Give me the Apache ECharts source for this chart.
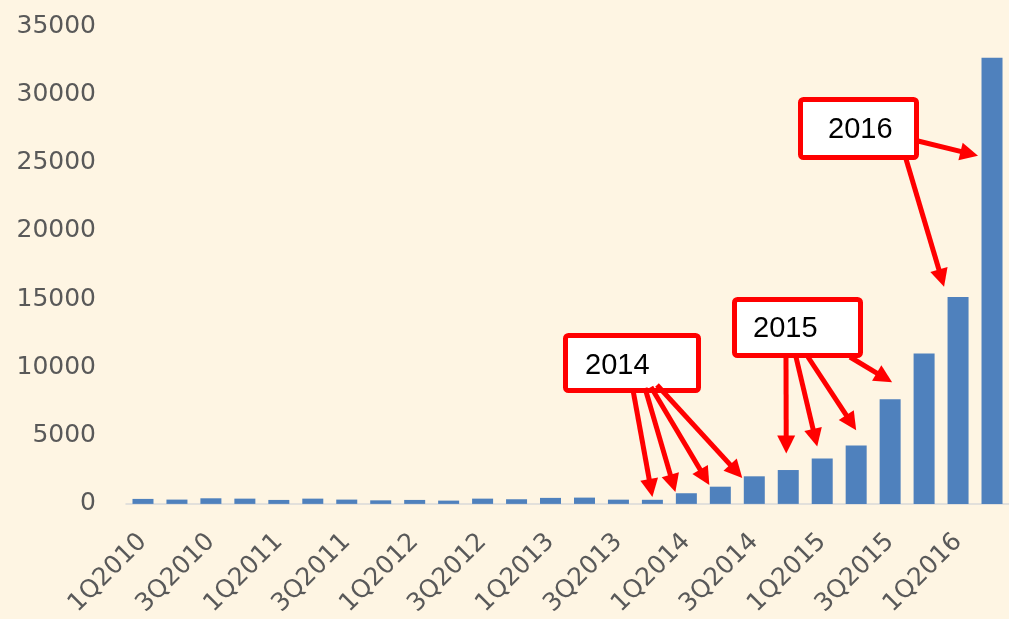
<!DOCTYPE html>
<html>
<head>
<meta charset="utf-8">
<script src="https://cdn.jsdelivr.net/npm/echarts@6/dist/echarts.min.js"></script>
<style>
  html, body { margin: 0; padding: 0; background: #FEF5E3; }
  #chart { width: 1009px; height: 619px; }
</style>
</head>
<body>
<div id="chart"></div>
<script>
// ---- data ----
const categories = [
  '1Q2010','2Q2010','3Q2010','4Q2010',
  '1Q2011','2Q2011','3Q2011','4Q2011',
  '1Q2012','2Q2012','3Q2012','4Q2012',
  '1Q2013','2Q2013','3Q2013','4Q2013',
  '1Q2014','2Q2014','3Q2014','4Q2014',
  '1Q2015','2Q2015','3Q2015','4Q2015',
  '1Q2016','2Q2016'
];
const values = [
  365, 315, 410, 385,
  290, 385, 315, 260,
  290, 240, 385, 340,
  440, 460, 310, 300,
  780, 1260, 2020, 2480,
  3330, 4280, 7660, 11010,
  15150, 32680
];
const yTicks = { min: 0, max: 35000, interval: 5000 };

// annotation callouts: label text, and arrow targets given as [category index, value]
const calloutLabels = ['2014', '2015', '2016'];
const calloutTargets = [
  [[15, 510], [16, 875], [17, 1385], [18, 1900]],
  [[19, 3690], [20, 4200], [21, 5400], [22, 8900]],
  [[24, 15900], [25, 25500]]
];

// ---- layout of the callouts (pixels) ----
const calloutLayout = [
  { box: [565.5, 335.5, 133, 55], text: [585, 366],
    starts: [[633, 390], [645, 388], [651, 387], [657, 385]], dx: [0, -11, -11, -12] },
  { box: [734.5, 299.5, 126, 56], text: [753, 329],
    starts: [[786, 357], [796, 357], [808, 357], [850, 357]], dx: [-2, -5, 0, 2] },
  { box: [800.5, 99.5, 116, 58], text: [828, 130],
    starts: [[906, 159], [918, 141]], dx: [-14, -14] }
];

const chart = echarts.init(document.getElementById('chart'));
chart.setOption({
  animation: false,
  backgroundColor: '#FEF5E3',
  grid: { left: 126, right: 0, top: 26, bottom: 114, containLabel: false },
  xAxis: {
    type: 'category',
    data: categories,
    axisLine: { lineStyle: { color: '#D9D9D9', width: 1.5 } },
    axisTick: { show: false },
    axisLabel: {
      interval: 1,
      rotate: 45,
      margin: 34,
      color: '#595959',
      fontFamily: 'DejaVu Sans',
      fontSize: 25
    }
  },
  yAxis: {
    type: 'value',
    min: yTicks.min, max: yTicks.max, interval: yTicks.interval,
    axisLine: { show: false },
    axisTick: { show: false },
    splitLine: { show: false },
    axisLabel: {
      margin: 30,
      color: '#595959',
      fontFamily: 'DejaVu Sans',
      fontSize: 25,
      formatter: (v) => String(v)
    }
  },
  series: [{
    type: 'bar',
    data: values,
    barWidth: 21,
    itemStyle: { color: '#4F81BD' }
  }]
});

// ---- build callouts ----
const RED = '#FF0000';
const graphics = [];
function arrow(p, t) {
  const vx = t[0] - p[0], vy = t[1] - p[1];
  const len = Math.hypot(vx, vy);
  const ux = vx / len, uy = vy / len;
  const L = 18, W = 9;
  const bx = t[0] - ux * L, by = t[1] - uy * L;
  const nx = -uy, ny = ux;
  graphics.push({
    type: 'line', z: 100,
    shape: { x1: p[0], y1: p[1], x2: bx + ux * 2, y2: by + uy * 2 },
    style: { stroke: RED, lineWidth: 5 }
  });
  graphics.push({
    type: 'polygon', z: 100,
    shape: { points: [[t[0], t[1]], [bx + nx * W, by + ny * W], [bx - nx * W, by - ny * W]] },
    style: { fill: RED }
  });
}
calloutLayout.forEach((c, i) => {
  graphics.push({
    type: 'rect', z: 99,
    shape: { x: c.box[0], y: c.box[1], width: c.box[2], height: c.box[3], r: 3 },
    style: { fill: '#FFFFFF', stroke: RED, lineWidth: 5 }
  });
  graphics.push({
    type: 'text', z: 101,
    x: c.text[0], y: c.text[1],
    style: {
      text: calloutLabels[i], fill: '#000000',
      font: '29px "Liberation Sans"',
      textAlign: 'left', textVerticalAlign: 'middle'
    }
  });
  calloutTargets[i].forEach((tg, j) => {
    const px = chart.convertToPixel({ xAxisIndex: 0, yAxisIndex: 0 }, tg);
    arrow(c.starts[j], [px[0] + c.dx[j], px[1]]);
  });
});
chart.setOption({ graphic: graphics });
</script>
</body>
</html>
